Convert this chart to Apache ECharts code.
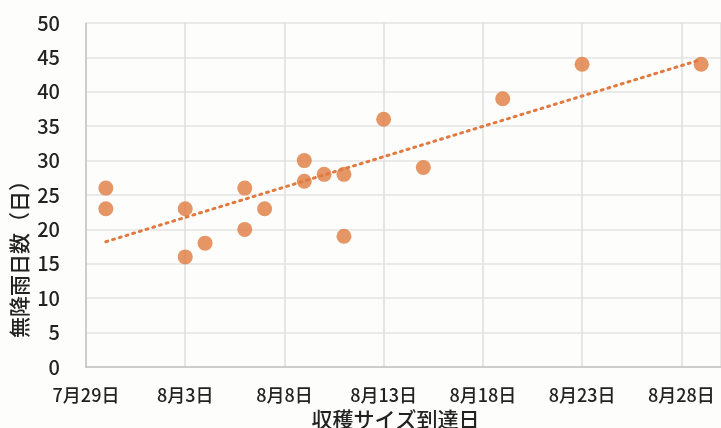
<!DOCTYPE html>
<html>
<head>
<meta charset="utf-8">
<script src="https://cdn.jsdelivr.net/npm/echarts@6/dist/echarts.min.js"></script>
<style>
  html, body { margin: 0; padding: 0; background: #fdfdfb; }
  #chart { width: 721px; height: 428px; }
</style>
</head>
<body>
<div id="chart"></div>
<script>
// Harvest-size arrival date (month/day) and number of rain-free days
const harvestDates = ['7/30', '7/30', '8/3', '8/3', '8/4', '8/6', '8/6', '8/7', '8/9', '8/9',
                      '8/10', '8/11', '8/11', '8/13', '8/15', '8/19', '8/23', '8/29'];
const dryDays = [26, 23, 23, 16, 18, 26, 20, 23, 30, 27, 28, 28, 19, 36, 29, 39, 44, 44];

// Axis range: start date, span in days and tick step in days
const axisStart = '7/29';
const axisSpanDays = 32;
const tickStepDays = 5;
const yTicks = [0, 5, 10, 15, 20, 25, 30, 35, 40, 45, 50];

const DAY = 86400000;
function toTime(md) {
  const [m, d] = md.split('/').map(Number);
  return Date.UTC(2000, m - 1, d);
}
const t0 = toTime(axisStart);
const dayOffset = md => Math.round((toTime(md) - t0) / DAY);
function labelFor(off) {
  const dt = new Date(t0 + off * DAY);
  return (dt.getUTCMonth() + 1) + '月' + dt.getUTCDate() + '日';
}

const points = harvestDates.map((md, i) => [dayOffset(md), dryDays[i]]);

// Least-squares linear trend over the points
const n = points.length;
const mx = points.reduce((s, p) => s + p[0], 0) / n;
const my = points.reduce((s, p) => s + p[1], 0) / n;
let sxy = 0, sxx = 0;
points.forEach(p => { sxy += (p[0] - mx) * (p[1] - my); sxx += (p[0] - mx) ** 2; });
const slope = sxy / sxx;
const intercept = my - slope * mx;
const xs = points.map(p => p[0]);
const xMin = Math.min(...xs), xMax = Math.max(...xs);
const trend = [[xMin, intercept + slope * xMin], [xMax, intercept + slope * xMax]];

const FONT = '"Noto Sans CJK JP", "Noto Sans", sans-serif';
const orange = '#e07a40';
const ink = '#222';

const chart = echarts.init(document.getElementById('chart'), null, { renderer: 'canvas' });
chart.setOption({
  backgroundColor: '#fdfdfb',
  animation: false,
  grid: { left: 86, right: 0, top: 23, bottom: 61, containLabel: false, outerBoundsMode: 'none' },
  xAxis: {
    type: 'value',
    min: 0,
    max: axisSpanDays,
    interval: tickStepDays,
    name: '収穫サイズ到達日',
    nameLocation: 'middle',
    nameGap: 38,
    nameTextStyle: { fontFamily: FONT, fontSize: 21, fontWeight: 500, color: ink, padding: [0, 16, 0, 0] },
    axisLine: { show: true, lineStyle: { color: '#c4c4c4', width: 1.5 } },
    axisTick: { show: false },
    axisLabel: {
      formatter: v => labelFor(v),
      fontFamily: FONT, fontSize: 18, fontWeight: 500, color: ink, margin: 19,
      showMaxLabel: false
    },
    splitLine: { show: true, lineStyle: { color: '#dedede', width: 1.5 } }
  },
  yAxis: {
    type: 'value',
    min: yTicks[0],
    max: yTicks[yTicks.length - 1],
    interval: yTicks[1] - yTicks[0],
    axisLine: { show: true, lineStyle: { color: '#c4c4c4', width: 1.5 } },
    axisTick: { show: false },
    axisLabel: { fontFamily: FONT, fontSize: 20, fontWeight: 500, color: ink, margin: 26 },
    splitLine: { show: true, lineStyle: { color: '#e3e3e3', width: 1.5 } }
  },
  graphic: [{
    type: 'text',
    left: 9,
    top: 170,
    rotation: Math.PI / 2,
    style: {
      text: '無降雨日数（日）',
      font: '500 21px ' + FONT,
      fill: ink
    }
  }],
  series: [
    {
      type: 'line',
      data: trend,
      symbol: 'none',
      silent: true,
      z: 1,
      lineStyle: { color: orange, width: 3, type: [2, 5], cap: 'round' }
    },
    {
      type: 'scatter',
      data: points,
      symbolSize: 15,
      z: 2,
      itemStyle: { color: orange }
    }
  ]
});
</script>
</body>
</html>
